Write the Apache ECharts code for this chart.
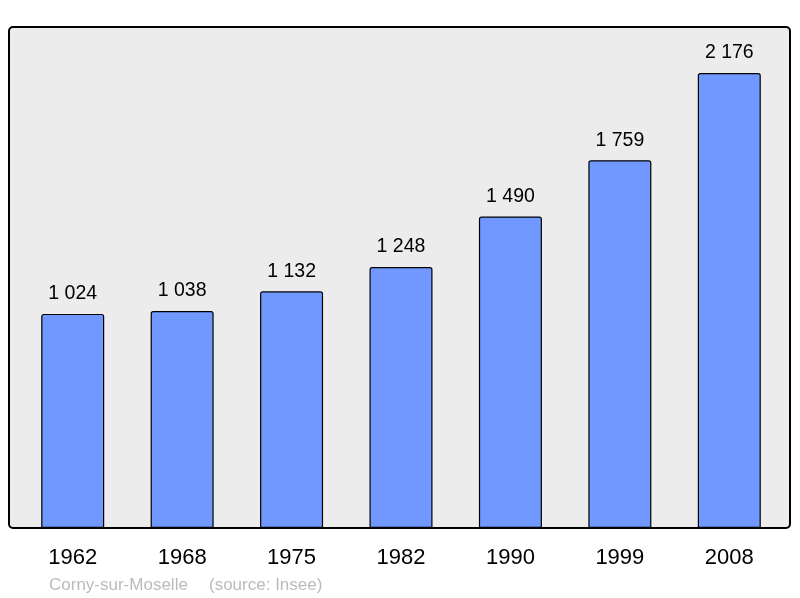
<!DOCTYPE html>
<html><head><meta charset="utf-8">
<script src="https://cdn.jsdelivr.net/npm/echarts@6/dist/echarts.min.js"></script>
<style>html,body{margin:0;padding:0;background:#fff}#c{width:800px;height:598px}</style>
</head><body><div id="c"></div>
<script>
var years = ['1962','1968','1975','1982','1990','1999','2008'];
var population = [1024,1038,1132,1248,1490,1759,2176];
var footerPlace = 'Corny-sur-Moselle';
var footerSource = '(source: Insee)';

function fmt(v){return String(v).replace(/\B(?=(\d{3})+(?!\d))/g,' ');}
var FONT = '"Liberation Sans", Arial, sans-serif';

var chart = echarts.init(document.getElementById('c'), null, {renderer:'canvas'});
chart.setOption({
  animation:false,
  backgroundColor:'#ffffff',
  graphic:[
    {type:'rect', z:-10, shape:{x:9,y:27,width:781,height:501,r:4},
     style:{fill:'#ececec',stroke:'#000',lineWidth:2}},
    {type:'text', left:49, top:577, style:{text:footerPlace, fill:'#bbbbbb', font:'17px ' + FONT}},
    {type:'text', left:209, top:577, style:{text:footerSource, fill:'#bbbbbb', font:'17px ' + FONT}}
  ],
  grid:{left:18, right:16, top:27, bottom:70, containLabel:false},
  xAxis:{type:'category', data:years,
    axisLine:{show:false}, axisTick:{show:false},
    axisLabel:{color:'#000', fontSize:22, margin:19, fontFamily:FONT}},
  yAxis:{type:'value', min:0, max:2396, show:false, splitLine:{show:false}},
  series:[{type:'bar', data:population, barWidth:63,
    itemStyle:{color:'#7098ff', borderColor:'#000', borderWidth:1.2, borderRadius:[2,2,0,0]},
    label:{show:true, position:'top', distance:10, color:'#000', fontSize:19.5,
      fontFamily:FONT,
      formatter:function(p){return fmt(p.value);}}
  }]
});
</script></body></html>
